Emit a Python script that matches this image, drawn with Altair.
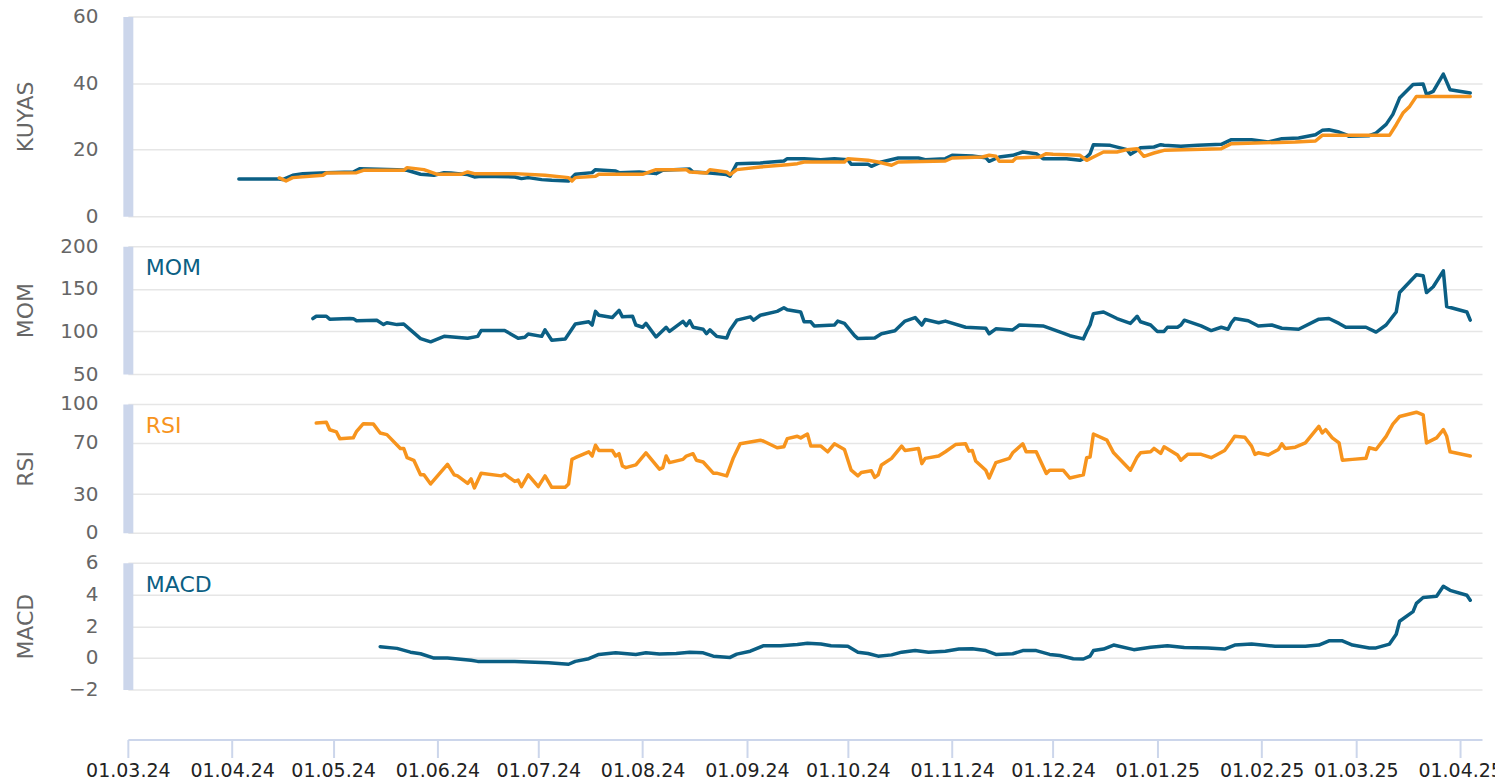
import altair as alt
import pandas as pd

BLUE = "#0b5f84"
ORANGE = "#f7941d"
FONT = "DejaVu Sans"

# ---------------- KUYAS price (blue) ----------------
kuyas_dates = [
    "2024-04-03", "2024-04-15", "2024-04-16", "2024-04-19", "2024-04-22", "2024-04-29",
    "2024-05-07", "2024-05-09", "2024-05-20", "2024-05-23", "2024-05-27", "2024-05-31",
    "2024-06-03", "2024-06-05", "2024-06-10", "2024-06-12", "2024-06-14", "2024-06-24",
    "2024-06-26", "2024-06-28", "2024-07-02", "2024-07-05", "2024-07-10", "2024-07-12",
    "2024-07-17", "2024-07-18", "2024-07-24", "2024-07-25", "2024-07-31", "2024-08-05",
    "2024-08-07", "2024-08-15", "2024-08-16", "2024-08-21", "2024-08-26", "2024-08-27",
    "2024-08-29", "2024-09-05", "2024-09-12", "2024-09-13", "2024-09-18", "2024-09-23",
    "2024-09-27", "2024-10-01", "2024-10-02", "2024-10-07", "2024-10-08", "2024-10-11",
    "2024-10-16", "2024-10-22", "2024-10-24", "2024-10-30", "2024-11-01", "2024-11-07",
    "2024-11-11", "2024-11-12", "2024-11-15", "2024-11-19", "2024-11-22", "2024-11-26",
    "2024-11-28", "2024-12-05", "2024-12-09", "2024-12-11", "2024-12-12", "2024-12-13",
    "2024-12-18", "2024-12-23", "2024-12-24", "2024-12-26", "2024-12-27", "2024-12-31",
    "2025-01-02", "2025-01-03", "2025-01-08", "2025-01-13", "2025-01-20", "2025-01-23",
    "2025-01-29", "2025-02-03", "2025-02-07", "2025-02-12", "2025-02-17", "2025-02-19",
    "2025-02-21", "2025-02-24", "2025-02-26", "2025-02-27", "2025-03-05", "2025-03-07",
    "2025-03-10", "2025-03-12", "2025-03-14", "2025-03-18", "2025-03-21", "2025-03-22",
    "2025-03-24", "2025-03-27", "2025-03-29", "2025-04-04",
]
kuyas_values = [
    11.2, 11.2, 11.0, 12.3, 12.8, 13.1,
    13.3, 14.3, 14.0, 13.8, 12.6, 12.3,
    13.1, 13.0, 12.5, 11.8, 12.0, 11.8,
    11.3, 11.6, 11.0, 10.8, 10.6, 12.6,
    13.1, 14.0, 13.6, 13.1, 13.3, 12.8,
    13.8, 14.2, 13.3, 13.0, 12.5, 12.0,
    15.8, 16.0, 16.6, 17.3, 17.3, 17.0,
    17.3, 17.0, 15.6, 15.6, 15.0, 16.3,
    17.5, 17.5, 17.0, 17.3, 18.3, 18.1,
    17.6, 16.5, 17.8, 18.3, 19.3, 18.8,
    17.3, 17.3, 16.8, 17.8, 18.8, 21.5,
    21.3, 20.0, 18.6, 19.8, 20.6, 20.8,
    21.5, 21.3, 21.0, 21.3, 21.6, 23.0,
    23.0, 22.3, 23.3, 23.5, 24.5, 25.8,
    26.0, 25.3, 24.5, 24.0, 24.2, 25.0,
    27.6, 30.6, 35.5, 39.6, 39.7, 36.6,
    37.5, 42.7, 38.0, 37.0,
]

# ---------------- KUYAS stop line (orange) ----------------
stop_dates = [
    "2024-04-15", "2024-04-17", "2024-04-19", "2024-04-28", "2024-04-29", "2024-05-08",
    "2024-05-10", "2024-05-22", "2024-05-23", "2024-05-28", "2024-06-01", "2024-06-08",
    "2024-06-10", "2024-06-12", "2024-06-24", "2024-07-03", "2024-07-10", "2024-07-11",
    "2024-07-12", "2024-07-18", "2024-07-19", "2024-08-01", "2024-08-05", "2024-08-14",
    "2024-08-15", "2024-08-20", "2024-08-21", "2024-08-26", "2024-08-27", "2024-08-29",
    "2024-09-05", "2024-09-13", "2024-09-16", "2024-09-18", "2024-09-30", "2024-10-01",
    "2024-10-07", "2024-10-10", "2024-10-14", "2024-10-16", "2024-10-30", "2024-11-01",
    "2024-11-10", "2024-11-12", "2024-11-14", "2024-11-15", "2024-11-19", "2024-11-20",
    "2024-11-27", "2024-11-29", "2024-12-01", "2024-12-09", "2024-12-11", "2024-12-13",
    "2024-12-16", "2024-12-20", "2024-12-23", "2024-12-26", "2024-12-28", "2024-12-31",
    "2025-01-03", "2025-01-20", "2025-01-23", "2025-02-11", "2025-02-17", "2025-02-19",
    "2025-03-11", "2025-03-13", "2025-03-15", "2025-03-17", "2025-03-19", "2025-04-04",
]
stop_values = [
    11.5, 10.6, 11.6, 12.3, 13.0, 13.1,
    13.8, 13.8, 14.6, 14.0, 12.6, 12.6,
    13.3, 12.8, 12.8, 12.3, 11.6, 10.6,
    11.6, 12.0, 12.6, 12.6, 14.0, 14.0,
    13.3, 13.0, 14.0, 13.3, 12.5, 14.0,
    14.8, 15.5, 15.8, 16.3, 16.3, 17.3,
    16.8, 16.3, 15.3, 16.3, 16.6, 17.5,
    17.8, 18.3, 18.0, 16.5, 16.5, 17.5,
    17.8, 18.8, 18.6, 18.3, 16.8, 17.8,
    19.3, 19.3, 20.0, 20.3, 18.0, 19.0,
    19.8, 20.3, 21.8, 22.3, 22.6, 24.3,
    24.3, 27.5, 31.0, 33.0, 36.0, 36.0,
]

# ---------------- MOM ----------------
mom_dates = [
    "2024-04-25", "2024-04-26", "2024-04-29", "2024-04-30", "2024-05-06", "2024-05-07",
    "2024-05-08", "2024-05-14", "2024-05-16", "2024-05-17", "2024-05-20", "2024-05-22",
    "2024-05-24", "2024-05-27", "2024-05-30", "2024-06-03", "2024-06-10", "2024-06-13",
    "2024-06-14", "2024-06-21", "2024-06-25", "2024-06-27", "2024-06-28", "2024-07-02",
    "2024-07-03", "2024-07-05", "2024-07-09", "2024-07-12", "2024-07-16", "2024-07-17",
    "2024-07-18", "2024-07-19", "2024-07-23", "2024-07-25", "2024-07-26", "2024-07-29",
    "2024-07-30", "2024-08-01", "2024-08-02", "2024-08-05", "2024-08-08", "2024-08-09",
    "2024-08-13", "2024-08-14", "2024-08-15", "2024-08-16", "2024-08-19", "2024-08-20",
    "2024-08-21", "2024-08-23", "2024-08-26", "2024-08-27", "2024-08-29", "2024-09-02",
    "2024-09-03", "2024-09-05", "2024-09-10", "2024-09-12", "2024-09-13", "2024-09-17",
    "2024-09-18", "2024-09-20", "2024-09-21", "2024-09-27", "2024-09-28", "2024-09-30",
    "2024-10-03", "2024-10-04", "2024-10-09", "2024-10-11", "2024-10-15", "2024-10-18",
    "2024-10-21", "2024-10-23", "2024-10-24", "2024-10-28", "2024-10-30", "2024-11-05",
    "2024-11-11", "2024-11-12", "2024-11-14", "2024-11-19", "2024-11-21", "2024-11-28",
    "2024-12-04", "2024-12-06", "2024-12-10", "2024-12-11", "2024-12-12", "2024-12-13",
    "2024-12-16", "2024-12-20", "2024-12-24", "2024-12-26", "2024-12-27", "2024-12-30",
    "2025-01-01", "2025-01-03", "2025-01-04", "2025-01-07", "2025-01-08", "2025-01-09",
    "2025-01-14", "2025-01-17", "2025-01-20", "2025-01-22", "2025-01-23", "2025-01-24",
    "2025-01-28", "2025-01-31", "2025-02-04", "2025-02-07", "2025-02-12", "2025-02-18",
    "2025-02-21", "2025-02-24", "2025-02-26", "2025-03-04", "2025-03-07", "2025-03-10",
    "2025-03-13", "2025-03-14", "2025-03-19", "2025-03-21", "2025-03-22", "2025-03-24",
    "2025-03-27", "2025-03-28", "2025-04-03", "2025-04-04",
]
mom_values = [
    115.1, 117.8, 117.8, 114.4, 115.1, 115.0,
    112.5, 113.2, 108.0, 110.2, 108.0, 108.7,
    101.8, 91.6, 87.8, 94.2, 92.0, 94.2,
    101.0, 101.0, 92.0, 93.1, 96.9, 94.2,
    101.8, 89.7, 91.2, 108.7, 111.3, 107.5,
    123.5, 119.0, 116.3, 124.7, 117.1, 117.8,
    107.5, 104.9, 109.4, 93.5, 104.9, 100.0,
    111.7, 106.8, 112.5, 104.9, 102.6, 97.3,
    101.8, 94.2, 92.3, 101.8, 113.2, 117.1,
    113.2, 119.0, 123.5, 127.7, 125.4, 122.8,
    111.3, 111.3, 106.4, 107.5, 112.1, 109.4,
    95.0, 91.6, 92.3, 97.3, 100.7, 112.1,
    116.3, 107.5, 114.0, 110.2, 112.1, 104.9,
    103.7, 97.3, 103.0, 101.8, 107.5, 106.4,
    98.0, 95.0, 91.2, 100.0, 107.5, 120.9,
    122.8, 115.1, 109.4, 117.8, 111.3, 107.5,
    100.0, 100.0, 104.9, 104.9, 107.5, 113.2,
    106.4, 101.0, 104.9, 102.6, 110.2, 115.1,
    112.5, 106.4, 107.5, 103.7, 102.6, 114.4,
    115.1, 109.4, 104.9, 104.9, 99.2, 107.5,
    122.8, 145.6, 166.5, 165.4, 145.6, 152.4,
    171.1, 129.2, 122.8, 113.2,
]

# ---------------- RSI ----------------
rsi_dates = [
    "2024-04-26", "2024-04-29", "2024-04-30", "2024-05-02", "2024-05-03", "2024-05-07",
    "2024-05-08", "2024-05-10", "2024-05-13", "2024-05-15", "2024-05-17", "2024-05-21",
    "2024-05-22", "2024-05-23", "2024-05-25", "2024-05-27", "2024-05-28", "2024-05-30",
    "2024-06-04", "2024-06-06", "2024-06-07", "2024-06-10", "2024-06-11", "2024-06-12",
    "2024-06-14", "2024-06-20", "2024-06-21", "2024-06-24", "2024-06-25", "2024-06-26",
    "2024-06-28", "2024-07-01", "2024-07-03", "2024-07-05", "2024-07-09", "2024-07-10",
    "2024-07-11", "2024-07-12", "2024-07-16", "2024-07-17", "2024-07-18", "2024-07-19",
    "2024-07-23", "2024-07-24", "2024-07-25", "2024-07-26", "2024-07-27", "2024-07-30",
    "2024-08-02", "2024-08-06", "2024-08-07", "2024-08-08", "2024-08-09", "2024-08-13",
    "2024-08-14", "2024-08-16", "2024-08-17", "2024-08-19", "2024-08-22", "2024-08-23",
    "2024-08-26", "2024-08-28", "2024-08-30", "2024-09-05", "2024-09-06", "2024-09-10",
    "2024-09-12", "2024-09-13", "2024-09-16", "2024-09-17", "2024-09-19", "2024-09-20",
    "2024-09-23", "2024-09-25", "2024-09-27", "2024-09-30", "2024-10-02", "2024-10-04",
    "2024-10-05", "2024-10-08", "2024-10-09", "2024-10-10", "2024-10-11", "2024-10-14",
    "2024-10-17", "2024-10-18", "2024-10-22", "2024-10-23", "2024-10-24", "2024-10-28",
    "2024-10-30", "2024-11-02", "2024-11-05", "2024-11-06", "2024-11-07", "2024-11-08",
    "2024-11-11", "2024-11-12", "2024-11-14", "2024-11-18", "2024-11-19", "2024-11-22",
    "2024-11-23", "2024-11-26", "2024-11-29", "2024-11-30", "2024-12-04", "2024-12-06",
    "2024-12-10", "2024-12-11", "2024-12-12", "2024-12-13", "2024-12-17", "2024-12-19",
    "2024-12-24", "2024-12-26", "2024-12-27", "2024-12-30", "2024-12-31", "2025-01-02",
    "2025-01-03", "2025-01-07", "2025-01-08", "2025-01-10", "2025-01-14", "2025-01-17",
    "2025-01-21", "2025-01-23", "2025-01-24", "2025-01-27", "2025-01-29", "2025-01-30",
    "2025-01-31", "2025-02-03", "2025-02-06", "2025-02-07", "2025-02-08", "2025-02-11",
    "2025-02-14", "2025-02-18", "2025-02-19", "2025-02-20", "2025-02-22", "2025-02-24",
    "2025-02-25", "2025-02-28", "2025-03-04", "2025-03-05", "2025-03-07", "2025-03-10",
    "2025-03-12", "2025-03-14", "2025-03-19", "2025-03-21", "2025-03-22", "2025-03-25",
    "2025-03-27", "2025-03-28", "2025-03-29", "2025-04-04",
]
rsi_values = [
    85.2, 85.9, 80.0, 78.3, 73.1, 73.7,
    78.8, 84.7, 84.4, 77.5, 76.2, 65.5,
    65.5, 58.3, 56.3, 45.0, 45.0, 37.9,
    53.2, 45.0, 44.2, 38.4, 41.8, 34.8,
    46.3, 44.2, 45.5, 39.9, 40.9, 35.8,
    45.0, 35.8, 44.2, 35.3, 35.3, 37.9,
    57.0, 58.3, 62.9, 59.6, 68.0, 63.9,
    63.9, 59.6, 61.4, 51.9, 50.6, 52.7,
    62.1, 49.4, 50.6, 59.6, 54.5, 57.0,
    59.6, 61.4, 56.3, 55.0, 46.3, 46.3,
    44.2, 58.3, 69.1, 71.9, 71.1, 66.0,
    66.8, 73.1, 74.9, 73.7, 76.7, 67.3,
    67.3, 62.9, 69.1, 64.7, 48.6, 44.2,
    46.8, 48.1, 43.0, 45.0, 52.7, 57.8,
    67.3, 63.9, 65.5, 53.7, 57.8, 59.6,
    62.9, 68.5, 69.1, 63.4, 63.9, 55.8,
    48.6, 42.5, 54.5, 57.8, 62.1, 69.1,
    62.9, 62.9, 46.0, 48.6, 48.6, 42.5,
    45.0, 58.3, 58.8, 76.7, 71.9, 62.1,
    48.6, 58.8, 62.1, 62.9, 65.5, 61.6,
    66.8, 60.4, 56.3, 60.9, 60.9, 58.3,
    63.9, 71.1, 74.9, 74.2, 67.3, 60.9,
    62.1, 60.4, 64.7, 69.1, 65.5, 66.5,
    69.8, 82.6, 77.5, 80.1, 73.7, 69.8,
    56.3, 57.0, 57.8, 66.0, 64.7, 74.9,
    84.4, 90.3, 93.6, 91.6, 69.8, 73.7,
    80.1, 74.9, 62.9, 59.6,
]

# ---------------- MACD ----------------
macd_dates = [
    "2024-05-15", "2024-05-20", "2024-05-24", "2024-05-27", "2024-05-31", "2024-06-04",
    "2024-06-11", "2024-06-13", "2024-06-24", "2024-07-04", "2024-07-10", "2024-07-12",
    "2024-07-16", "2024-07-19", "2024-07-24", "2024-07-30", "2024-08-02", "2024-08-06",
    "2024-08-11", "2024-08-15", "2024-08-19", "2024-08-22", "2024-08-27", "2024-08-29",
    "2024-09-02", "2024-09-06", "2024-09-11", "2024-09-16", "2024-09-19", "2024-09-23",
    "2024-09-26", "2024-10-01", "2024-10-04", "2024-10-07", "2024-10-10", "2024-10-14",
    "2024-10-17", "2024-10-21", "2024-10-25", "2024-10-30", "2024-11-03", "2024-11-07",
    "2024-11-11", "2024-11-14", "2024-11-19", "2024-11-22", "2024-11-26", "2024-11-30",
    "2024-12-03", "2024-12-07", "2024-12-10", "2024-12-12", "2024-12-13", "2024-12-16",
    "2024-12-19", "2024-12-25", "2024-12-30", "2025-01-04", "2025-01-09", "2025-01-16",
    "2025-01-21", "2025-01-24", "2025-01-29", "2025-02-05", "2025-02-14", "2025-02-18",
    "2025-02-21", "2025-02-25", "2025-02-28", "2025-03-05", "2025-03-07", "2025-03-11",
    "2025-03-13", "2025-03-14", "2025-03-18", "2025-03-19", "2025-03-21", "2025-03-25",
    "2025-03-27", "2025-03-29", "2025-04-03", "2025-04-04",
]
macd_values = [
    0.71, 0.60, 0.36, 0.26, -0.01, -0.01,
    -0.15, -0.22, -0.22, -0.30, -0.40, -0.22,
    -0.05, 0.22, 0.32, 0.22, 0.32, 0.24,
    0.28, 0.36, 0.32, 0.11, 0.03, 0.24,
    0.42, 0.77, 0.77, 0.85, 0.93, 0.87,
    0.77, 0.73, 0.36, 0.28, 0.11, 0.19,
    0.36, 0.46, 0.36, 0.42, 0.56, 0.58,
    0.46, 0.22, 0.26, 0.46, 0.46, 0.22,
    0.15, -0.05, -0.07, 0.11, 0.46, 0.56,
    0.81, 0.52, 0.67, 0.77, 0.65, 0.63,
    0.56, 0.81, 0.87, 0.73, 0.73, 0.81,
    1.08, 1.08, 0.81, 0.63, 0.63, 0.87,
    1.49, 2.31, 2.92, 3.44, 3.81, 3.89,
    4.52, 4.26, 3.95, 3.64,
]

# ---------------- axis settings ----------------
month_ticks = [(2024, m) for m in range(3, 13)] + [(2025, m) for m in range(1, 5)]
x_domain = [
    alt.DateTime(year=2024, month=3, date=1, utc=True),
    alt.DateTime(year=2025, month=4, date=7, hours=12, utc=True),
]

PLOT_W = 1356


def x_enc(show_axis):
    if show_axis:
        axis = alt.Axis(
            values=[alt.DateTime(year=y, month=m, date=1, utc=True) for y, m in month_ticks],
            labelExpr="utcFormat(datum.value, '%d.%m.%y')",
            offset=50,
            grid=False,
            domainColor="#ccd6eb",
            domainWidth=2,
            ticks=True,
            tickColor="#ccd6eb",
            tickWidth=2,
            tickSize=18,
            labelFontSize=19,
            labelColor="#222222",
            labelPadding=4,
            labelFlush=False,
            labelOverlap=False,
            title=None,
        )
    else:
        axis = None
    return alt.X("date:T", scale=alt.Scale(type="utc", domain=x_domain), axis=axis)


def panel(series, domain, ticks, title, height, label=None, label_color=None, show_x=False):
    y = alt.Y(
        "value:Q",
        scale=alt.Scale(domain=domain, nice=False, zero=False),
        axis=alt.Axis(
            values=ticks,
            title=title,
            titleX=-102,
            titleY=height / 2,
            titleBaseline="middle",
            titleAlign="center",
        ),
    )
    layers = []
    for dates, values, color in series:
        df = pd.DataFrame({"date": dates, "value": values})
        layers.append(
            alt.Chart(df)
            .mark_line(color=color, strokeWidth=3.5, strokeCap="round", strokeJoin="round")
            .encode(x=x_enc(show_x), y=y)
        )
    if label is not None:
        layers.append(
            alt.Chart(pd.DataFrame({"label": [label]}))
            .mark_text(align="left", baseline="middle", fontSize=22, font=FONT, color=label_color)
            .encode(x=alt.value(18), y=alt.value(22), text="label:N")
        )
    return alt.layer(*layers).properties(width=PLOT_W, height=height)


p_kuyas = panel(
    [(kuyas_dates, kuyas_values, BLUE), (stop_dates, stop_values, ORANGE)],
    [0, 60], [0, 20, 40, 60], "KUYAS", 200,
)
p_mom = panel([(mom_dates, mom_values, BLUE)], [50, 200], [50, 100, 150, 200], "MOM", 128,
              label="MOM", label_color=BLUE)
p_rsi = panel([(rsi_dates, rsi_values, ORANGE)], [0, 100], [0, 30, 70, 100], "RSI", 129,
              label="RSI", label_color=ORANGE)
p_macd = panel([(macd_dates, macd_values, BLUE)], [-2, 6], [-2, 0, 2, 4, 6], "MACD", 127,
               label="MACD", label_color=BLUE, show_x=True)

chart = (
    alt.vconcat(p_kuyas, p_mom, p_rsi, p_macd, spacing=10)
    .resolve_scale(x="independent", y="independent")
    .properties(padding={"left": 6, "top": -2, "right": -8, "bottom": -4})
    .configure_view(stroke=None)
    .configure_axis(labelFont=FONT, titleFont=FONT)
    .configure_axisY(
        domainColor="#ccd6eb",
        domainWidth=10,
        ticks=False,
        tickSize=0,
        labelPadding=30,
        labelFontSize=20,
        labelColor="#666666",
        titleFontSize=22,
        titleColor="#666666",
        titleFontWeight="normal",
        gridColor="#e6e6e6",
        gridWidth=1.5,
    )
)

chart.save("out.html", embed_options={"renderer": "svg", "actions": False})
